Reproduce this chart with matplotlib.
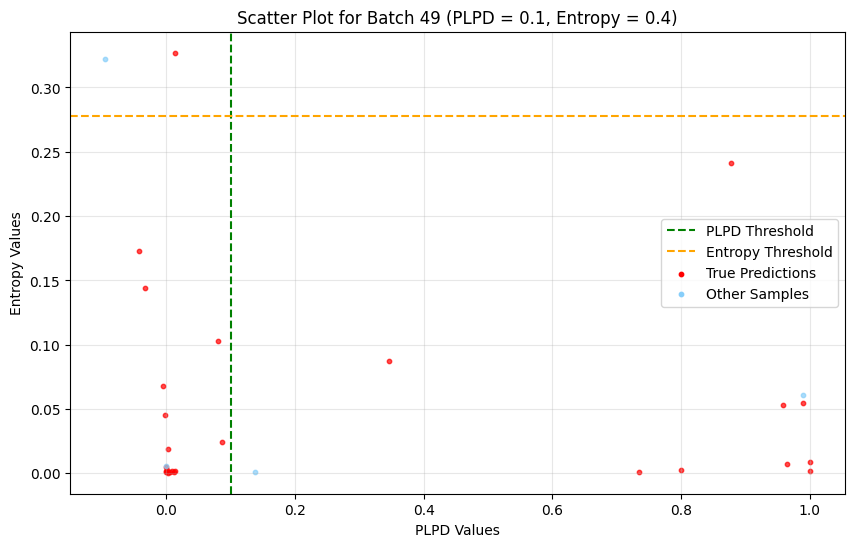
import matplotlib
matplotlib.use("Agg")
import matplotlib.pyplot as plt

batch = 49
plpd_threshold = 0.1
entropy_threshold = 0.2775

# True predictions (red)
true_plpd = [0.014, 0.877, -0.042, -0.033, 0.081, 0.346, -0.006, -0.002, 0.086,
             0.002, 0.0, 0.0, 0.002, 0.005, 0.008, 0.012, 0.014, 0.001, 0.0,
             0.735, 0.80, 0.959, 0.99, 0.964, 1.0, 1.0]
true_entropy = [0.327, 0.241, 0.173, 0.144, 0.103, 0.087, 0.068, 0.045, 0.024,
                0.019, 0.005, 0.001, 0.0005, 0.001, 0.002, 0.001, 0.002, 0.003, 0.002,
                0.001, 0.003, 0.053, 0.055, 0.007, 0.009, 0.002]

# Other samples (blue)
other_plpd = [-0.095, 0.0, 0.138, 0.99]
other_entropy = [0.322, 0.006, 0.001, 0.061]

fig, ax = plt.subplots(figsize=(10, 6))

ax.axvline(plpd_threshold, color='green', linestyle='--', label='PLPD Threshold')
ax.axhline(entropy_threshold, color='orange', linestyle='--', label='Entropy Threshold')
ax.scatter(true_plpd, true_entropy, color='red', s=10, alpha=0.7, label='True Predictions')
ax.scatter(other_plpd, other_entropy, color='lightskyblue', s=10, alpha=0.7, label='Other Samples')

ax.set_xlabel('PLPD Values')
ax.set_ylabel('Entropy Values')
ax.set_title(f'Scatter Plot for Batch {batch} (PLPD = 0.1, Entropy = 0.4)')
leg = ax.legend(loc='center right')
for h in leg.legend_handles:
    h.set_alpha(1)
ax.grid(alpha=0.3)

fig.savefig('out.png', dpi=100, bbox_inches='tight')
